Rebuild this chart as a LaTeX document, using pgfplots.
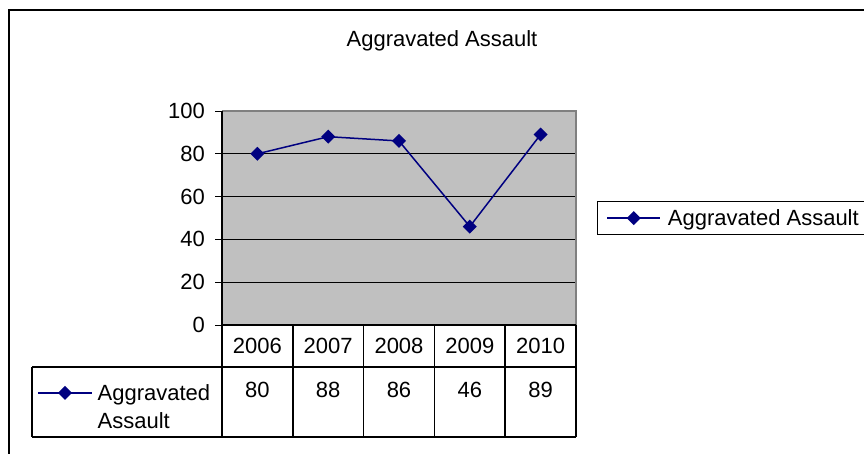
\documentclass[border=0pt]{standalone}
\usepackage{fontspec}
\setmainfont{Liberation Sans}
\usepackage{pgfplots}
\pgfplotsset{compat=1.18}
\usepackage{pgfplotstable}
\definecolor{navy}{HTML}{000080}
\definecolor{plotgray}{HTML}{C0C0C0}
\definecolor{bordergray}{HTML}{808080}
\pgfplotstableread{
x year v
1 2006 80
2 2007 88
3 2008 86
4 2009 46
5 2010 89
}\data
\newcommand{\bigfont}{\fontsize{22}{26}\selectfont}
\begin{document}
\begin{tikzpicture}
\path[use as bounding box] (0pt,0pt) rectangle (864pt,-453pt);
\begin{axis}[
  at={(222pt,-325pt)}, anchor=south west,
  scale only axis, width=354pt, height=214pt,
  xmin=0.5, xmax=5.5, ymin=0, ymax=100, clip=false,
  xtick=data, xticklabels={2006,2007,2008,2009,2010},
  xtick style={draw=none},
  ytick={0,20,...,100}, ytick pos=left, tick align=outside,
  major tick length=7pt,
  ytick style={black, line width=1pt},
  ymajorgrids, grid style={black, line width=1.3pt},
  axis line style={draw=none},
  axis background/.style={fill=plotgray},
  tick label style={font=\bigfont},
  /pgf/number format/assume math mode=true,
  xticklabel style={anchor=center, yshift=-14pt},
  yticklabel style={anchor=east, inner sep=0pt, xshift=-10pt},
  legend style={at={(1.0593,0.5)}, anchor=west, draw=black, line width=1pt,
    font=\bigfont, inner xsep=9pt, inner ysep=6pt,
    /tikz/every odd column/.append style={column sep=5pt}},
  legend image code/.code={\draw[mark repeat=2,mark phase=2,#1] plot coordinates {(0pt,0pt) (26.5pt,0pt) (53pt,0pt)};},
]
\addplot[navy, line width=1.5pt, mark=square*, mark size=4.2pt,
  mark options={rotate=45, solid}] table[x=x, y=v] {\data};
\addlegendentry{Aggravated Assault}
\addplot[draw=none, mark=none, forget plot, nodes near coords,
  point meta=explicit, nodes near coords align={center},
  nodes near coords style={anchor=center, font=\bigfont, text=black}]
  table[x=x, y expr=-30.4, meta=v] {\data};
\end{axis}
\begin{axis}[
  at={(37pt,-382pt)}, anchor=north west, hide axis,
  scale only axis, width=10pt, height=10pt,
  xmin=0, xmax=1, ymin=0, ymax=1,
  legend cell align=left,
  legend style={at={(0,1)}, anchor=north west, draw=none, fill=none,
    font=\bigfont, inner sep=0pt, row sep=7pt,
    /tikz/every odd column/.append style={column sep=3pt}},
  legend image code/.code={\draw[mark repeat=2,mark phase=2,#1] plot coordinates {(0pt,0pt) (27pt,0pt) (54pt,0pt)};},
]
\addlegendimage{navy, line width=1.5pt, mark=square*, mark size=4.2pt, mark options={rotate=45, solid}}
\addlegendentry{Aggravated}
\addlegendimage{empty legend}
\addlegendentry{Assault}
\end{axis}
% chart frame
\draw[line width=1.5pt] (9pt,-470pt) -- (9pt,-10pt) -- (880pt,-10pt);
% title
\node[font=\bigfont] at (442pt,-41pt) {Aggravated Assault};
% plot-area border
\draw[bordergray, line width=2pt] (222pt,-111pt) -- (576pt,-111pt) -- (576pt,-325pt);
\draw[black, line width=1.5pt] (222pt,-111pt) -- (222pt,-437pt);
% data table lines
\draw[black, line width=1.5pt] (222pt,-325pt) -- (576pt,-325pt);
\draw[black, line width=1.5pt] (32pt,-367pt) -- (576pt,-367pt);
\draw[black, line width=1.5pt] (32pt,-437pt) -- (576pt,-437pt);
\draw[black, line width=1.5pt] (32pt,-367pt) -- (32pt,-437pt);
\foreach \xx in {292.8,363.6,434.4,505.2,576} {
  \draw[black, line width=1.5pt] (\xx pt,-325pt) -- (\xx pt,-437pt);
}
\end{tikzpicture}
\end{document}
